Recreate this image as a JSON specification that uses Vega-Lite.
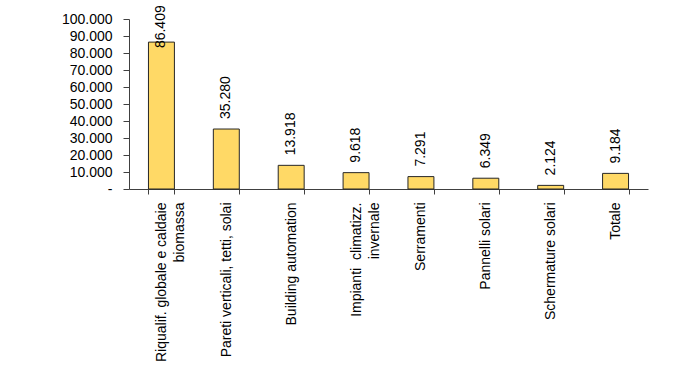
{
  "$schema": "https://vega.github.io/schema/vega-lite/v6.json",
  "width": 519,
  "height": 170,
  "autosize": {"type": "none"},
  "padding": {"left": 129, "top": 19, "right": 52, "bottom": 179},
  "background": "white",
  "config": {
    "view": {"stroke": null},
    "locale": {"number": {"decimal": ",", "thousands": ".", "grouping": [3], "currency": ["€", ""]}},
    "axis": {"labelFont": "Liberation Sans, Arial, sans-serif", "labelFontSize": 14, "labelColor": "#000000", "domainColor": "#404040", "tickColor": "#404040", "grid": false, "title": null}
  },
  "data": {
    "values": [
      {"cat": "Riqualif. globale e caldaie\nbiomassa\u00a0\u00a0\u00a0\u00a0\u00a0\u00a0\u00a0\u00a0\u00a0\u00a0\u00a0\u00a0\u00a0", "value": 86409},
      {"cat": "Pareti verticali, tetti, solai", "value": 35280},
      {"cat": "Building automation", "value": 13918},
      {"cat": "Impianti\u00a0 climatizz.\ninvernale\u00a0\u00a0\u00a0\u00a0\u00a0\u00a0\u00a0", "value": 9618},
      {"cat": "Serramenti", "value": 7291},
      {"cat": "Pannelli solari", "value": 6349},
      {"cat": "Schermature solari", "value": 2124},
      {"cat": "Totale", "value": 9184}
    ]
  },
  "encoding": {
    "x": {
      "field": "cat", "type": "nominal", "sort": null,
      "scale": {"paddingInner": 0.6, "paddingOuter": 0.3},
      "axis": {"labelAngle": 270, "labelAlign": "right", "labelBaseline": "middle", "tickBand": "extent", "tickSize": 5, "labelPadding": 8, "labelLimit": 0, "labelOverlap": false, "labelLineHeight": 18, "labelExpr": "split(datum.label, '\\n')"}
    },
    "y": {
      "field": "value", "type": "quantitative",
      "scale": {"domain": [0, 100000], "nice": false},
      "axis": {"values": [0, 10000, 20000, 30000, 40000, 50000, 60000, 70000, 80000, 90000, 100000], "format": ",d", "tickSize": 6, "labelPadding": 11, "labelExpr": "datum.value == 0 ? '-\u00a0\u00a0' : datum.label"}
    }
  },
  "layer": [
    {"mark": {"type": "bar", "fill": "#FFD966", "stroke": "#262626", "strokeWidth": 1}},
    {
      "transform": [{"filter": "datum.value < 80000"}],
      "mark": {"type": "text", "angle": 270, "align": "left", "baseline": "middle", "dx": 10, "font": "Liberation Sans, Arial, sans-serif", "fontSize": 14, "color": "#000000"},
      "encoding": {"text": {"field": "value", "type": "quantitative", "format": ",d"}}
    },
    {
      "transform": [{"filter": "datum.value >= 80000"}],
      "mark": {"type": "text", "angle": 270, "align": "left", "baseline": "middle", "dx": -6, "font": "Liberation Sans, Arial, sans-serif", "fontSize": 14, "color": "#000000"},
      "encoding": {"text": {"field": "value", "type": "quantitative", "format": ",d"}}
    }
  ]
}
